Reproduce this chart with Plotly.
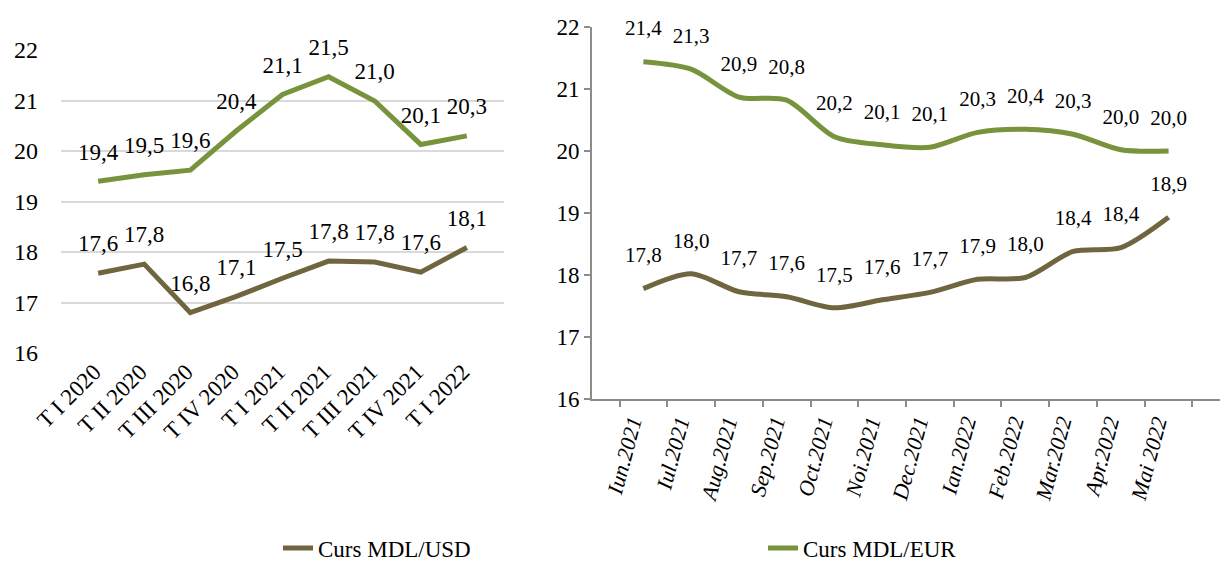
import plotly.graph_objects as go

# Left chart (quarterly)
quarters = ["T I 2020", "T II 2020", "T III 2020", "T IV 2020", "T I 2021",
            "T II 2021", "T III 2021", "T IV 2021", "T I 2022"]
q_usd = [17.58, 17.76, 16.80, 17.12, 17.48, 17.82, 17.80, 17.60, 18.09]
q_eur = [19.40, 19.53, 19.62, 20.40, 21.12, 21.47, 20.99, 20.13, 20.30]

# Right chart (monthly)
months = ["Iun.2021", "Iul.2021", "Aug.2021", "Sep.2021", "Oct.2021", "Noi.2021",
          "Dec.2021", "Ian.2022", "Feb.2022", "Mar.2022", "Apr.2022", "Mai 2022"]
m_usd = [17.78, 18.02, 17.73, 17.65, 17.47, 17.60, 17.72, 17.93, 17.96, 18.38, 18.44, 18.93]
m_eur = [21.44, 21.32, 20.87, 20.82, 20.23, 20.10, 20.06, 20.30, 20.35, 20.27, 20.02, 20.00]

y_ticks = [16, 17, 18, 19, 20, 21, 22]

USD_COLOR = "#6F6640"
EUR_COLOR = "#77933C"
FONT = "Liberation Serif"
CLEAR = "rgba(0,0,0,0)"

fig = go.Figure()

# Left
for name, vals, col in [("Curs MDL/USD", q_usd, USD_COLOR), ("Curs MDL/EUR", q_eur, EUR_COLOR)]:
    fig.add_trace(go.Scatter(x=quarters, y=vals, mode="lines+markers+text", name=name,
                             line=dict(color=col, width=5),
                             marker=dict(size=24, color=CLEAR),
                             texttemplate="%{y:.1f}", textposition="top center",
                             textfont=dict(family=FONT, size=23, color="#000"),
                             xaxis="x", yaxis="y", showlegend=True, cliponaxis=False,
                             hoverinfo="skip"))

# Right
for name, vals, col in [("Curs MDL/USD", m_usd, USD_COLOR), ("Curs MDL/EUR", m_eur, EUR_COLOR)]:
    fig.add_trace(go.Scatter(x=months, y=vals, mode="lines+markers+text", name=name,
                             line=dict(color=col, width=5, shape="spline", smoothing=0.8),
                             marker=dict(size=32, color=CLEAR),
                             texttemplate="%{y:.1f}", textposition="top center",
                             textfont=dict(family=FONT, size=21, color="#000"),
                             xaxis="x2", yaxis="y2", showlegend=False, cliponaxis=False,
                             hoverinfo="skip"))

H = 563
W = 1220
fig.update_layout(
    width=W, height=H,
    margin=dict(l=0, r=0, t=0, b=0, autoexpand=False),
    paper_bgcolor="white", plot_bgcolor="white",
    separators=", ",
    font=dict(family=FONT, size=20, color="#000"),
    xaxis=dict(domain=[61 / W, 504 / W], anchor="y", showgrid=False, showline=False,
               ticks="", tickangle=-45, tickfont=dict(family=FONT, size=23),
               ticklabelshift=-4, automargin=False),
    yaxis=dict(domain=[(H - 353) / H, (H - 50) / H], anchor="x", range=[16, 22],
               tickvals=y_ticks, showgrid=True, gridcolor="#D9D9D9", gridwidth=2,
               zeroline=False, showline=False, ticks="", ticklabelstandoff=22,
               tickfont=dict(family=FONT, size=24), automargin=False),
    xaxis2=dict(domain=[592 / W, 1.0], anchor="y2", showgrid=False, showline=True,
                linecolor="#8C8C8C", linewidth=2, ticks="outside", tickson="boundaries",
                ticklen=6, tickcolor="#8C8C8C", tickwidth=2, tickangle=-75,
                tickfont=dict(family=FONT, size=22, style="italic"),
                ticklabelshift=-12, automargin=False),
    yaxis2=dict(domain=[(H - 399) / H, (H - 27) / H], anchor="x2", range=[16, 22],
                tickvals=y_ticks, showgrid=False, zeroline=False, showline=True,
                linecolor="#8C8C8C", linewidth=2, ticks="outside", ticklen=6,
                tickcolor="#8C8C8C", tickwidth=2, tickfont=dict(family=FONT, size=23),
                automargin=False),
    legend=dict(orientation="h", x=278 / W, xanchor="left", y=(H - 548) / H, yanchor="middle",
                entrywidth=440, entrywidthmode="pixels",
                font=dict(family=FONT, size=23), bgcolor=CLEAR),
)

fig.write_html("out.html", config={"displayModeBar": False},
               post_script="document.body.style.margin='0';document.body.style.overflow='hidden';")
